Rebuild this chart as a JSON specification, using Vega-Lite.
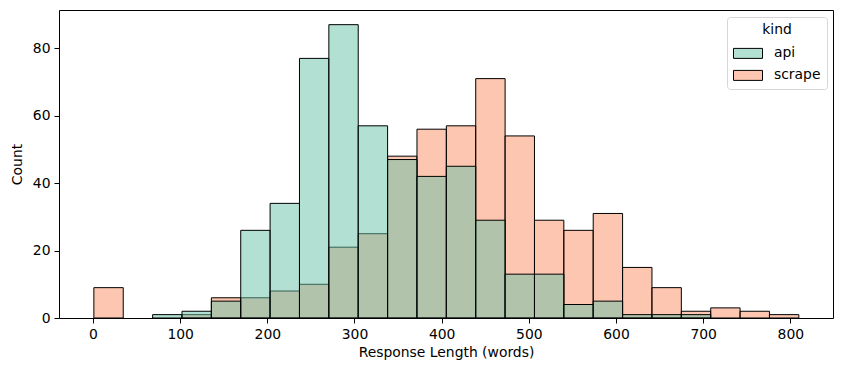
{
  "$schema": "https://vega.github.io/schema/vega-lite/v6.json",
  "width": 774,
  "height": 308,
  "autosize": {"type": "none"},
  "padding": {"left": 59, "top": 10, "right": 8, "bottom": 53},
  "background": "white",
  "config": {
    "font": "DejaVu Sans",
    "view": {"stroke": "black", "strokeWidth": 1},
    "axis": {
      "grid": false,
      "domain": false,
      "tickColor": "black",
      "tickSize": 5,
      "labelPadding": 4,
      "labelColor": "black",
      "labelFontSize": 13.9,
      "titleFontSize": 13.9,
      "titleFontWeight": "normal",
      "titleColor": "black",
      "labelFont": "DejaVu Sans",
      "titleFont": "DejaVu Sans"
    }
  },
  "data": {
    "values": [
      {"kind": "scrape", "bin_start": 1, "bin_end": 34.7, "count": 9},
      {"kind": "scrape", "bin_start": 102.1, "bin_end": 135.8, "count": 1},
      {"kind": "scrape", "bin_start": 135.8, "bin_end": 169.5, "count": 6},
      {"kind": "scrape", "bin_start": 169.5, "bin_end": 203.2, "count": 6},
      {"kind": "scrape", "bin_start": 203.2, "bin_end": 236.9, "count": 8},
      {"kind": "scrape", "bin_start": 236.9, "bin_end": 270.6, "count": 10},
      {"kind": "scrape", "bin_start": 270.6, "bin_end": 304.3, "count": 21},
      {"kind": "scrape", "bin_start": 304.3, "bin_end": 338, "count": 25},
      {"kind": "scrape", "bin_start": 338, "bin_end": 371.7, "count": 48},
      {"kind": "scrape", "bin_start": 371.7, "bin_end": 405.4, "count": 56},
      {"kind": "scrape", "bin_start": 405.4, "bin_end": 439.1, "count": 57},
      {"kind": "scrape", "bin_start": 439.1, "bin_end": 472.8, "count": 71},
      {"kind": "scrape", "bin_start": 472.8, "bin_end": 506.5, "count": 54},
      {"kind": "scrape", "bin_start": 506.5, "bin_end": 540.2, "count": 29},
      {"kind": "scrape", "bin_start": 540.2, "bin_end": 573.9, "count": 26},
      {"kind": "scrape", "bin_start": 573.9, "bin_end": 607.6, "count": 31},
      {"kind": "scrape", "bin_start": 607.6, "bin_end": 641.3, "count": 15},
      {"kind": "scrape", "bin_start": 641.3, "bin_end": 675, "count": 9},
      {"kind": "scrape", "bin_start": 675, "bin_end": 708.7, "count": 2},
      {"kind": "scrape", "bin_start": 708.7, "bin_end": 742.4, "count": 3},
      {"kind": "scrape", "bin_start": 742.4, "bin_end": 776.1, "count": 2},
      {"kind": "scrape", "bin_start": 776.1, "bin_end": 809.8, "count": 1},
      {"kind": "api", "bin_start": 68.4, "bin_end": 102.1, "count": 1},
      {"kind": "api", "bin_start": 102.1, "bin_end": 135.8, "count": 2},
      {"kind": "api", "bin_start": 135.8, "bin_end": 169.5, "count": 5},
      {"kind": "api", "bin_start": 169.5, "bin_end": 203.2, "count": 26},
      {"kind": "api", "bin_start": 203.2, "bin_end": 236.9, "count": 34},
      {"kind": "api", "bin_start": 236.9, "bin_end": 270.6, "count": 77},
      {"kind": "api", "bin_start": 270.6, "bin_end": 304.3, "count": 87},
      {"kind": "api", "bin_start": 304.3, "bin_end": 338, "count": 57},
      {"kind": "api", "bin_start": 338, "bin_end": 371.7, "count": 47},
      {"kind": "api", "bin_start": 371.7, "bin_end": 405.4, "count": 42},
      {"kind": "api", "bin_start": 405.4, "bin_end": 439.1, "count": 45},
      {"kind": "api", "bin_start": 439.1, "bin_end": 472.8, "count": 29},
      {"kind": "api", "bin_start": 472.8, "bin_end": 506.5, "count": 13},
      {"kind": "api", "bin_start": 506.5, "bin_end": 540.2, "count": 13},
      {"kind": "api", "bin_start": 540.2, "bin_end": 573.9, "count": 4},
      {"kind": "api", "bin_start": 573.9, "bin_end": 607.6, "count": 5},
      {"kind": "api", "bin_start": 607.6, "bin_end": 641.3, "count": 1},
      {"kind": "api", "bin_start": 641.3, "bin_end": 675, "count": 1},
      {"kind": "api", "bin_start": 675, "bin_end": 708.7, "count": 1}
    ]
  },
  "mark": {"type": "bar", "fillOpacity": 0.5, "stroke": "black", "strokeWidth": 1, "strokeOpacity": 1},
  "encoding": {
    "x": {
      "field": "bin_start",
      "type": "quantitative",
      "scale": {"domain": [-39, 849], "nice": false, "zero": false},
      "axis": {"title": "Response Length (words)", "values": [0, 100, 200, 300, 400, 500, 600, 700, 800], "titlePadding": 5}
    },
    "x2": {"field": "bin_end"},
    "y": {
      "field": "count",
      "type": "quantitative",
      "stack": null,
      "scale": {"domain": [0, 91.35], "nice": false},
      "axis": {"title": "Count", "values": [0, 20, 40, 60, 80], "titlePadding": 8}
    },
    "y2": {"datum": 0},
    "color": {
      "field": "kind",
      "type": "nominal",
      "scale": {"domain": ["api", "scrape"], "range": ["#66c2a5", "#fc8d62"]},
      "legend": {
        "orient": "none",
        "legendX": 668,
        "legendY": 7,
        "title": "kind",
        "titleFontWeight": "normal",
        "titleFontSize": 13.9,
        "titleColor": "black",
        "titleAnchor": "middle",
        "titlePadding": 6,
        "labelFontSize": 13.9,
        "labelColor": "black",
        "labelOffset": 20,
        "symbolType": "M-1,-0.5H1.9V0.5H-1Z",
        "symbolSize": 400,
        "symbolStrokeColor": "black",
        "symbolStrokeWidth": 1,
        "strokeColor": "#d6d6d6",
        "fillColor": "white",
        "cornerRadius": 3,
        "padding": 6,
        "rowPadding": 4,
        "encode": {"symbols": {"update": {"fillOpacity": {"value": 0.5}, "stroke": {"value": "black"}, "strokeOpacity": {"value": 1}}}}
      }
    }
  }
}
